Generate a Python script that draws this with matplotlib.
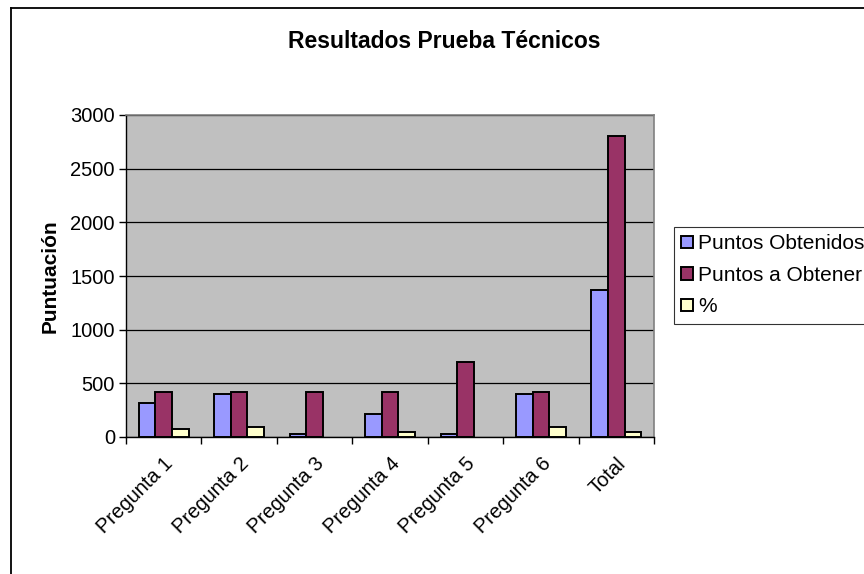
import matplotlib
matplotlib.use("Agg")
import matplotlib.pyplot as plt
import numpy as np
from matplotlib.lines import Line2D

plt.rcParams["font.family"] = ["Liberation Sans", "DejaVu Sans"]

categories = ["Pregunta 1", "Pregunta 2", "Pregunta 3", "Pregunta 4",
              "Pregunta 5", "Pregunta 6", "Total"]
puntos_obtenidos = [320, 400, 25, 215, 25, 400, 1370]
puntos_a_obtener = [420, 420, 420, 420, 700, 420, 2800]
porcentaje = [76, 95, 0, 51, 0, 95, 49]

series_names = ["Puntos Obtenidos", "Puntos a Obtener", "%"]
series_colors = ["#9999FF", "#993366", "#FFFFCC"]

fig = plt.figure(figsize=(8.64, 5.74), dpi=100)
ax = fig.add_axes([126 / 864, 1 - 437 / 574, 528 / 864, 322 / 574])
ax.set_facecolor("#C0C0C0")

x = np.arange(len(categories))
width = 0.22
for i, (vals, name, color) in enumerate(
        zip([puntos_obtenidos, puntos_a_obtener, porcentaje], series_names, series_colors)):
    bars = ax.bar(x + (i - 1) * width, vals, width, color=color, edgecolor="black",
                  linewidth=1.4, label=name, zorder=3)
    # empty cells are not drawn at all
    for patch in bars:
        if patch.get_height() == 0:
            patch.set_visible(False)

ax.set_xlim(-0.5, len(categories) - 0.5)
ax.set_ylim(0, 3000)
ax.set_yticks(np.arange(0, 3001, 500))
ax.yaxis.grid(True, color="black", linewidth=0.9, zorder=1)
ax.set_axisbelow(True)

ax.set_xticks(np.arange(len(categories) + 1) - 0.5)
ax.set_xticklabels([])
ax.set_xticks(x, minor=True)
ax.set_xticklabels(categories, minor=True, rotation=45, ha="right", va="top",
                   rotation_mode="anchor", fontsize=14.5)
ax.tick_params(axis="x", which="minor", length=0, pad=12)
ax.tick_params(axis="x", which="major", length=5, width=1, color="black", direction="out")
ax.tick_params(axis="y", length=5, width=1, labelsize=14.5, direction="out", pad=3)

for side in ["top", "right"]:
    ax.spines[side].set_color("#808080")
    ax.spines[side].set_linewidth(1.2)
for side in ["left", "bottom"]:
    ax.spines[side].set_color("black")
    ax.spines[side].set_linewidth(1.0)

ax.set_ylabel("Puntuación", fontsize=15, fontweight="bold", labelpad=8)

fig.text(444 / 864, 1 - 42 / 574, "Resultados Prueba Técnicos", ha="center", va="center",
         fontsize=16.5, fontweight="bold")

leg = ax.legend(loc="upper left", bbox_to_anchor=(674 / 864, 1 - 227 / 574),
                bbox_transform=fig.transFigure, fontsize=15, frameon=True, fancybox=False,
                handlelength=0.55, handleheight=0.55, handletextpad=0.25, borderpad=0.35,
                labelspacing=0.6, borderaxespad=0)
leg.get_frame().set_edgecolor("black")
leg.get_frame().set_linewidth(0.8)

# outer chart border (left and top visible)
fig.add_artist(Line2D([11 / 864, 11 / 864], [0, 1 - 8 / 574], transform=fig.transFigure,
                      color="black", linewidth=1.3))
fig.add_artist(Line2D([11 / 864, 1], [1 - 8 / 574, 1 - 8 / 574], transform=fig.transFigure,
                      color="black", linewidth=1.3))

fig.savefig("out.png", dpi=100)
